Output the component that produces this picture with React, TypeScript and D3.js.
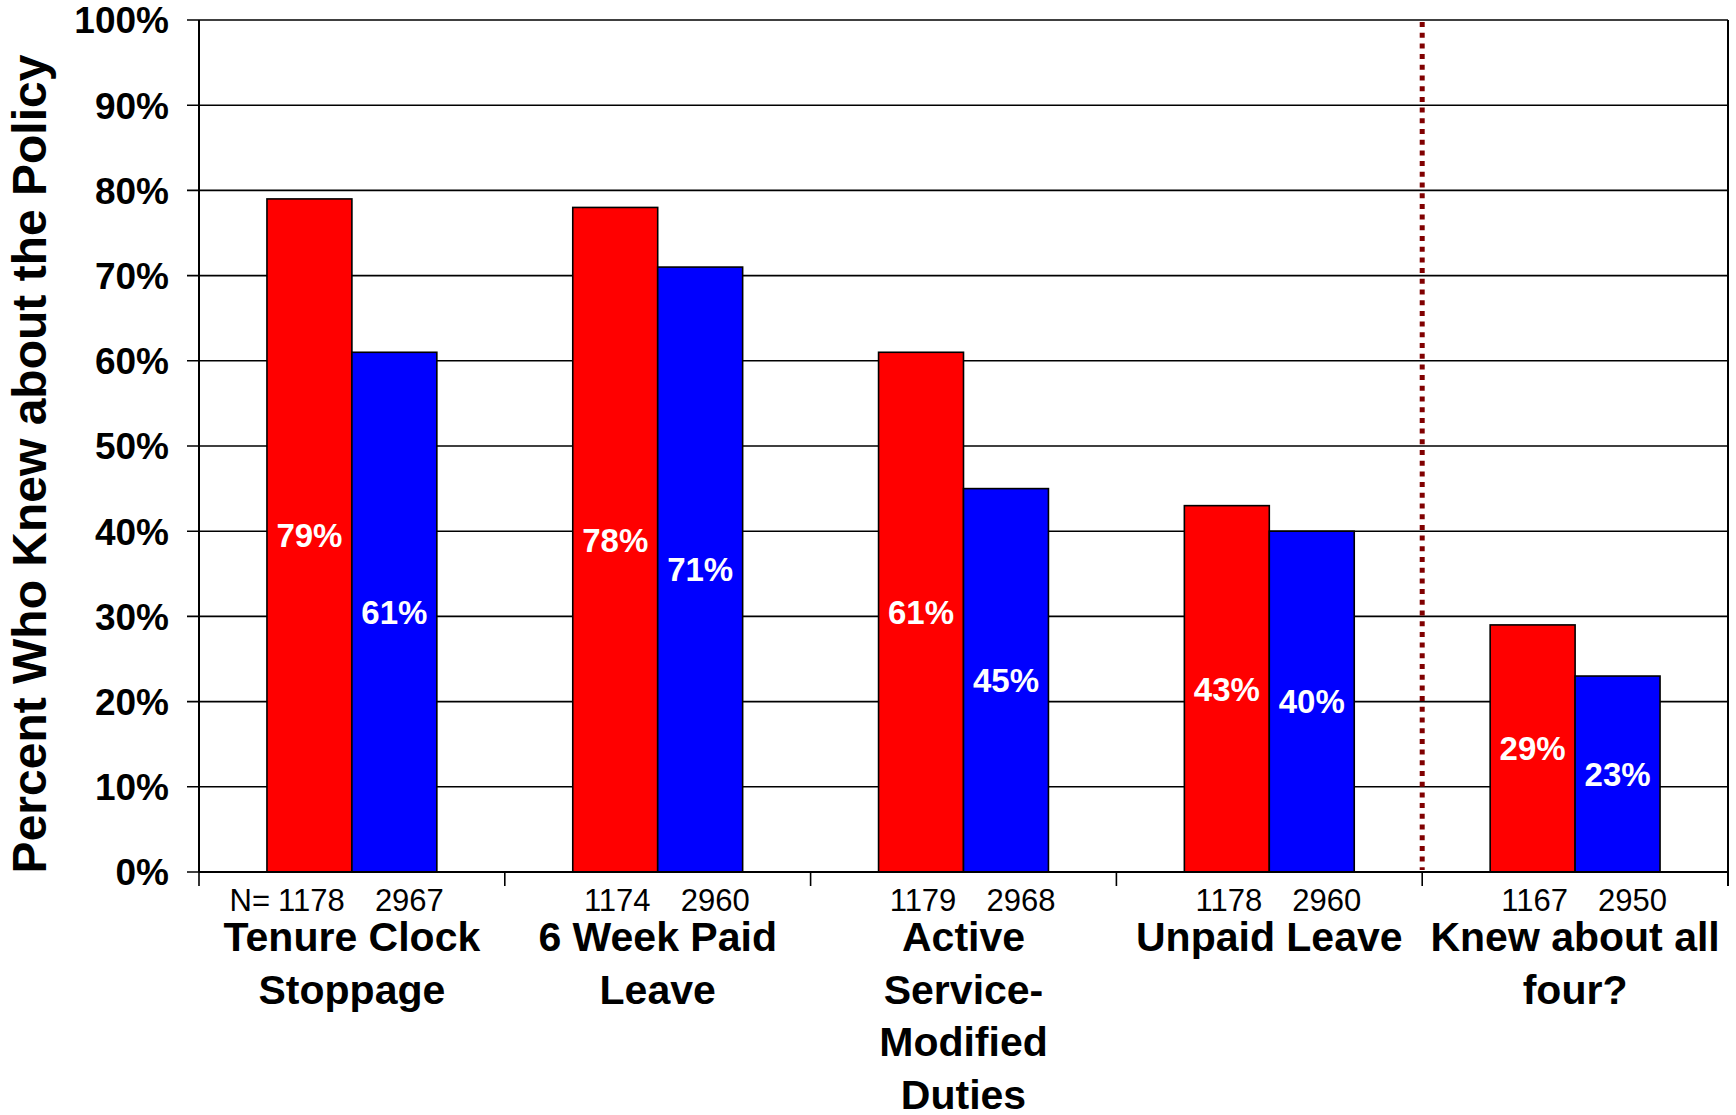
import React from "react";
import * as d3 from "d3";

const categories: string[][] = [
  ["Tenure Clock", "Stoppage"],
  ["6 Week Paid", "Leave"],
  ["Active", "Service-", "Modified", "Duties"],
  ["Unpaid Leave"],
  ["Knew about all", "four?"],
];
const seriesNames = ["Group A", "Group B"];
const seriesColors = ["#FF0000", "#0000FF"];
const valuesA = [79, 78, 61, 43, 29];
const valuesB = [61, 71, 45, 40, 23];
const nA = [1178, 1174, 1179, 1178, 1167];
const nB = [2967, 2960, 2968, 2960, 2950];
const yTicks = [0, 10, 20, 30, 40, 50, 60, 70, 80, 90, 100];
const yTitle = "Percent Who Knew about the Policy";

const W = 1736;
const H = 1115;
const FONT = "'Liberation Sans', Arial, Helvetica, sans-serif";

export default function App() {
  const left = 199;
  const right = 1728;
  const top = 20;
  const bottom = 872;
  const keys = categories.map((_, i) => String(i));
  const x0 = d3.scaleBand<string>().domain(keys).range([left, right]).padding(0);
  const x1 = d3
    .scaleBand<string>()
    .domain(seriesNames)
    .range([0, x0.bandwidth()])
    .paddingInner(0)
    .paddingOuter(0.8);
  const y = d3.scaleLinear().domain([0, 100]).range([bottom, top]);
  const series = [valuesA, valuesB];
  const ns = [nA, nB];
  const nOffsets = [2, 15];
  const dividerX = x0("4") as number;

  return (
    <svg
      width={W}
      height={H}
      style={{ position: "absolute", left: 0, top: 0, background: "#fff" }}
      fontFamily={FONT}
    >
      <rect x={0} y={0} width={W} height={H} fill="#fff" />
      {yTicks.map((t) => (
        <line
          key={"g" + t}
          x1={left - 12}
          x2={right}
          y1={y(t)}
          y2={y(t)}
          stroke="#000"
          strokeWidth={1.6}
        />
      ))}
      {yTicks.map((t) => (
        <text
          key={"t" + t}
          x={169}
          y={y(t)}
          dy="0.36em"
          textAnchor="end"
          fontSize={37}
          fontWeight="bold"
          fill="#000"
        >
          {t + "%"}
        </text>
      ))}
      {categories.map((_, ci) =>
        seriesNames.map((s, si) => {
          const v = series[si][ci];
          const bx = (x0(String(ci)) as number) + (x1(s) as number);
          return (
            <rect
              key={"b" + ci + "-" + si}
              x={bx}
              y={y(v)}
              width={x1.bandwidth()}
              height={y(0) - y(v)}
              fill={seriesColors[si]}
              stroke="#000"
              strokeWidth={1.6}
            />
          );
        })
      )}
      {categories.map((_, ci) =>
        seriesNames.map((s, si) => {
          const v = series[si][ci];
          const cx = (x0(String(ci)) as number) + (x1(s) as number) + x1.bandwidth() / 2;
          const cy = (y(v) + y(0)) / 2;
          return (
            <text
              key={"v" + ci + "-" + si}
              x={cx}
              y={cy}
              dy="0.36em"
              textAnchor="middle"
              fontSize={33}
              fontWeight="bold"
              fill="#fff"
            >
              {v + "%"}
            </text>
          );
        })
      )}
      <line x1={left} x2={left} y1={top} y2={bottom} stroke="#000" strokeWidth={2} />
      <line x1={right} x2={right} y1={top} y2={bottom + 14} stroke="#000" strokeWidth={2} />
      <line x1={left} x2={right} y1={bottom} y2={bottom} stroke="#000" strokeWidth={2} />
      {keys.map((k) => (
        <line
          key={"xt" + k}
          x1={x0(k) as number}
          x2={x0(k) as number}
          y1={bottom}
          y2={bottom + 14}
          stroke="#000"
          strokeWidth={1.6}
        />
      ))}
      <line
        x1={dividerX}
        x2={dividerX}
        y1={top + 2}
        y2={bottom - 2}
        stroke="#800000"
        strokeWidth={5}
        strokeDasharray="5 5.7"
      />
      {categories.map((_, ci) =>
        seriesNames.map((s, si) => {
          const cx =
            (x0(String(ci)) as number) + (x1(s) as number) + x1.bandwidth() / 2 + nOffsets[si];
          return (
            <text
              key={"n" + ci + "-" + si}
              x={cx}
              y={911}
              textAnchor="middle"
              fontSize={31}
              fill="#000"
            >
              {ns[si][ci]}
            </text>
          );
        })
      )}
      <text x={270} y={911} textAnchor="end" fontSize={31} fill="#000">
        N=
      </text>
      {categories.map((lines, ci) => {
        const cx = (x0(String(ci)) as number) + x0.bandwidth() / 2;
        return (
          <text
            key={"c" + ci}
            x={cx}
            textAnchor="middle"
            fontSize={41}
            fontWeight="bold"
            fill="#000"
          >
            {lines.map((ln, li) => (
              <tspan key={li} x={cx} y={951 + li * 52.5}>
                {ln}
              </tspan>
            ))}
          </text>
        );
      })}
      <text
        transform={`translate(46,${(top + bottom) / 2 + 18}) rotate(-90)`}
        textAnchor="middle"
        fontSize={48}
        fontWeight="bold"
        fill="#000"
      >
        {yTitle}
      </text>
    </svg>
  );
}
